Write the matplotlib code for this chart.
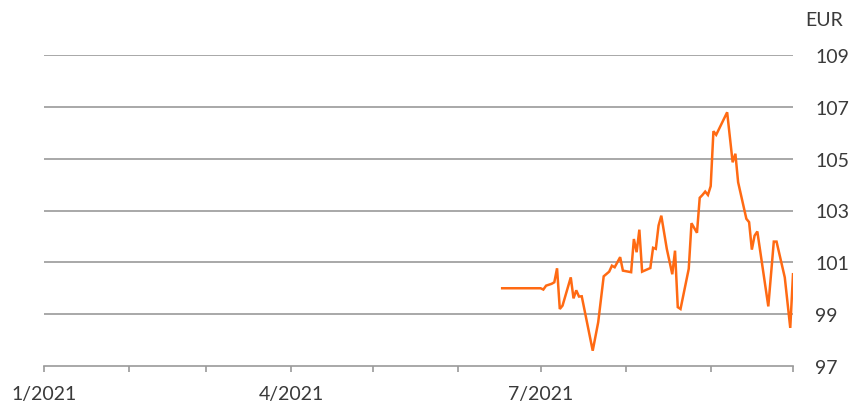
import matplotlib
matplotlib.use("Agg")
import matplotlib.pyplot as plt
import pandas as pd

dates = ["2021-06-17", "2021-07-01", "2021-07-02", "2021-07-03", "2021-07-05", "2021-07-06",
         "2021-07-07", "2021-07-08", "2021-07-09", "2021-07-12", "2021-07-13", "2021-07-14",
         "2021-07-15", "2021-07-16", "2021-07-20", "2021-07-22", "2021-07-24", "2021-07-26",
         "2021-07-27", "2021-07-28", "2021-07-30", "2021-07-31", "2021-08-03", "2021-08-04",
         "2021-08-05", "2021-08-06", "2021-08-07", "2021-08-10", "2021-08-11", "2021-08-12",
         "2021-08-13", "2021-08-14", "2021-08-16", "2021-08-18", "2021-08-19", "2021-08-20",
         "2021-08-21", "2021-08-24", "2021-08-25", "2021-08-27", "2021-08-28", "2021-08-29",
         "2021-08-30", "2021-08-31", "2021-09-01", "2021-09-02", "2021-09-03", "2021-09-07",
         "2021-09-09", "2021-09-10", "2021-09-11", "2021-09-14", "2021-09-15", "2021-09-16",
         "2021-09-17", "2021-09-18", "2021-09-22", "2021-09-24", "2021-09-25", "2021-09-28",
         "2021-09-30", "2021-10-01"]
prices = [100.00, 100.00, 99.95, 100.10, 100.17, 100.23,
          100.77, 99.20, 99.33, 100.42, 99.61, 99.92,
          99.68, 99.69, 97.59, 98.69, 100.46, 100.64,
          100.87, 100.81, 101.20, 100.68, 100.62, 101.90,
          101.39, 102.26, 100.64, 100.78, 101.56, 101.52,
          102.42, 102.80, 101.52, 100.54, 101.45, 99.27,
          99.20, 100.75, 102.51, 102.14, 103.49, 103.60,
          103.73, 103.60, 103.94, 106.06, 105.92, 106.79,
          104.86, 105.19, 104.09, 102.68, 102.55, 101.49,
          102.03, 102.19, 99.30, 101.80, 101.80, 100.42,
          98.47, 100.54]

y_ticks = [97, 99, 101, 103, 105, 107, 109]
x_labels = {"2021-01-01": "1/2021", "2021-04-01": "4/2021", "2021-07-01": "7/2021"}
unit = "EUR"

plt.rcParams['font.family'] = ['Lato', 'DejaVu Sans']

fig = plt.figure(figsize=(8.61, 4.06), dpi=100)
ax = fig.add_axes([44/861, 1 - 367/406, (793 - 44)/861, (367 - 56)/406])

x = pd.to_datetime(dates)
ax.plot(x, prices, color="#FF6A13", lw=1.8, solid_joinstyle="miter", zorder=3)

ax.set_xlim(pd.Timestamp("2021-01-01"), pd.Timestamp("2021-10-01"))
ax.set_ylim(97, 109)

for v in y_ticks[1:]:
    ax.axhline(v, color="#9a9a9a", lw=1.2, zorder=1)

for s in ["top", "left", "right"]:
    ax.spines[s].set_visible(False)
ax.spines["bottom"].set_color("#9a9a9a")
ax.spines["bottom"].set_linewidth(1.2)

month_ticks = pd.date_range("2021-01-01", "2021-10-01", freq="MS")
ax.set_xticks(month_ticks)
ax.set_xticklabels([x_labels.get(d.strftime("%Y-%m-%d"), "") for d in month_ticks])
ax.tick_params(axis="x", direction="out", length=4.5, width=1.2, color="#9a9a9a",
               labelsize=14, labelcolor="#3a3a3a", pad=9)

ax.yaxis.tick_right()
ax.set_yticks(y_ticks)
ax.set_yticklabels([str(v) for v in y_ticks])
ax.tick_params(axis="y", length=0, labelsize=14, labelcolor="#3a3a3a", pad=16)

fig.text(843/861, 1 - 20/406, unit, ha="right", va="center", fontsize=14, color="#3a3a3a")

fig.savefig("out.png", dpi=100)
